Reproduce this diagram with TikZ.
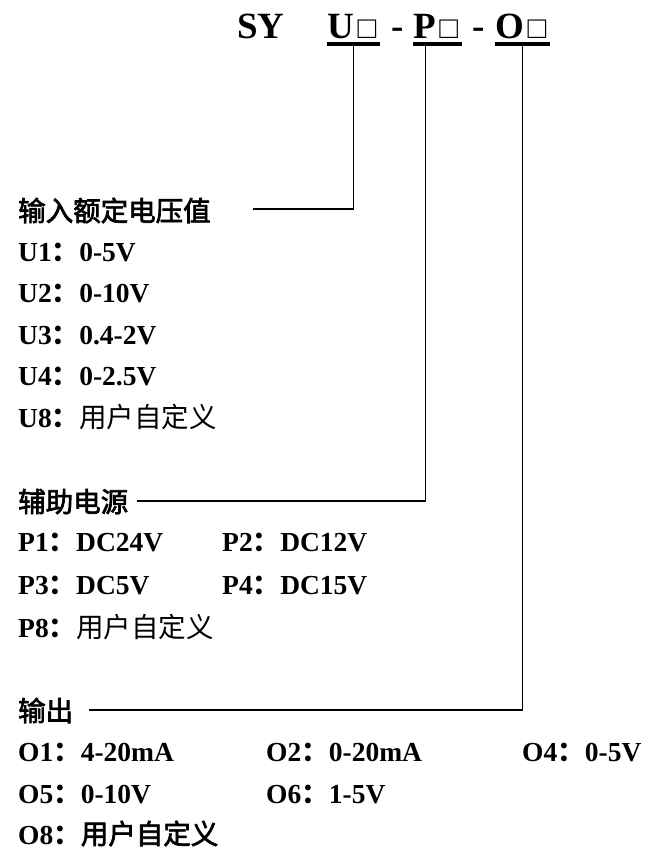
\documentclass[tikz,border=0pt]{standalone}
\usepackage{fontspec}
\setmainfont{Liberation Serif}
\newfontfamily\cjk{Noto Sans CJK SC}
\newfontfamily\cjkh[FakeBold=2.5]{Noto Sans CJK SC}
\newcommand\cc{{\cjk\bfseries ：}}
\newcommand\wbox{\makebox[26pt]{\fontsize{31}{31}\selectfont\mdseries □}}
\begin{document}
\begin{tikzpicture}[x=1pt,y=-1pt,
  item/.style={anchor=base west,inner sep=0pt,font=\fontsize{27.5}{33}\selectfont\bfseries},
  head/.style={anchor=base west,inner sep=0pt,font=\fontsize{27.5}{33}\selectfont\cjkh\mdseries},
  ttl/.style={anchor=base west,inner sep=0pt,font=\fontsize{37}{44}\selectfont\bfseries},
  link/.style={line width=1.4pt},
  uline/.style={line width=3.6pt}]
\useasboundingbox (0,0) rectangle (655,849);
% title
\node[ttl] (SY) at (237,38) {SY};
\node[ttl] (U) at (327,38) {U\wbox};
\node[ttl] (d1) at (391,38) {-};
\node[ttl] (P) at (413,38) {P\wbox};
\node[ttl] (d2) at (472,38) {-};
\node[ttl] (O) at (495,38) {O\wbox};
\foreach \n in {U,P,O}
  \draw[uline] ([yshift=-6pt]\n.base west) -- ([yshift=-6pt]\n.base east);
% headings and items
\node[head] (hU) at (18,221) {输入额定电压值};
\node[item] (u1) at (18,261) {U1\cc 0-5V};
\node[item] (u2) at (18,302) {U2\cc 0-10V};
\node[item] (u3) at (18,344) {U3\cc 0.4-2V};
\node[item] (u4) at (18,385) {U4\cc 0-2.5V};
\node[item] (u8) at (18,427) {U8\cc{\cjk\mdseries 用户自定义}};
\node[head] (hP) at (18,512) {辅助电源};
\node[item] (p1) at (18,551) {P1\cc DC24V};
\node[item] (p2) at (222,551) {P2\cc DC12V};
\node[item] (p3) at (18,594) {P3\cc DC5V};
\node[item] (p4) at (222,594) {P4\cc DC15V};
\node[item] (p8) at (18,637) {P8\cc{\cjk\mdseries 用户自定义}};
\node[head] (hO) at (18,721) {输出};
\node[item] (o1) at (18,761) {O1\cc 4-20mA};
\node[item] (o2) at (266,761) {O2\cc 0-20mA};
\node[item] (o4) at (522,761) {O4\cc 0-5V};
\node[item] (o5) at (18,803) {O5\cc 0-10V};
\node[item] (o6) at (266,803) {O6\cc 1-5V};
\node[item] (o8) at (18,844) {O8\cc{\cjkh\mdseries 用户自定义}};
% connectors
\coordinate (uEnd) at (253,209);
\coordinate (pEnd) at (137,501);
\coordinate (oEnd) at (89,710);
\draw[link] ([yshift=-6pt]U.base) |- (uEnd);
\draw[link] ([xshift=-12pt,yshift=-6pt]P.base) |- (pEnd);
\draw[link] ([yshift=-6pt]O.base) |- (oEnd);
\end{tikzpicture}
\end{document}
